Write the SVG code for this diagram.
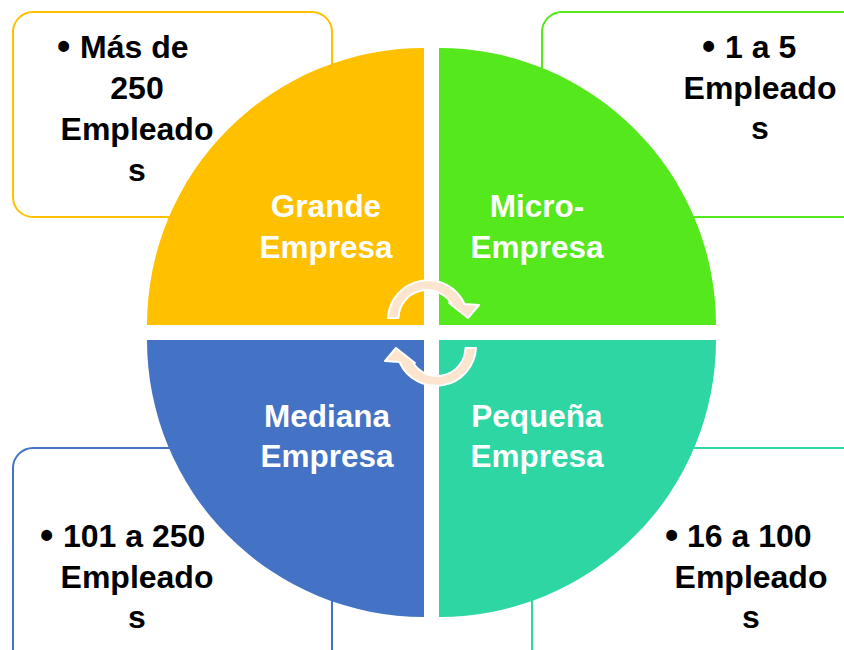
<svg xmlns="http://www.w3.org/2000/svg" width="844" height="650" viewBox="0 0 844 650">
<style>
.box{fill:#FFFFFF;stroke-width:2}
.lbl{font-family:"Liberation Sans",Arial,sans-serif;font-weight:bold;font-size:31.5px;fill:#FFFFFF;text-anchor:middle}
.txt{font-family:"Liberation Sans",Arial,sans-serif;font-weight:bold;font-size:32px;fill:#000000}
.bul{font-family:"Liberation Sans",Arial,sans-serif;font-weight:bold;font-size:38px;fill:#000000}
.mid{text-anchor:middle}
.arrow{fill:#FCE4CF;stroke:#FFFFFF;stroke-width:2;stroke-linejoin:round}
</style>
<rect width="844" height="650" fill="#FFFFFF"/>
<g id="box-grande">
<rect class="box" x="13" y="12" width="319" height="205" rx="20" stroke="#FFC000"/>
<text class="bul" x="57" y="59">•</text>
<text class="txt" x="80" y="58">Más de</text>
<text class="txt mid" x="137" y="99">250</text>
<text class="txt mid" x="137" y="140">Empleado</text>
<text class="txt mid" x="137" y="181">s</text>
</g>
<g id="box-micro">
<rect class="box" x="542" y="12" width="330" height="205" rx="20" stroke="#54E81D"/>
<text class="bul" x="702" y="59">•</text>
<text class="txt" x="725" y="58">1 a 5</text>
<text class="txt mid" x="760" y="99">Empleado</text>
<text class="txt mid" x="760" y="139">s</text>
</g>
<g id="box-mediana">
<rect class="box" x="13" y="448" width="319" height="230" rx="20" stroke="#4472C4"/>
<text class="bul" x="40" y="548">•</text>
<text class="txt" x="63" y="547">101 a 250</text>
<text class="txt mid" x="137" y="588">Empleado</text>
<text class="txt mid" x="137" y="628">s</text>
</g>
<g id="box-pequena">
<rect class="box" x="532" y="448" width="340" height="230" rx="20" stroke="#2ED6A3"/>
<text class="bul" x="665" y="548">•</text>
<text class="txt" x="687" y="547">16 a 100</text>
<text class="txt mid" x="751" y="588">Empleado</text>
<text class="txt mid" x="751" y="628">s</text>
</g>
<g id="grande">
<path d="M424 325 L147 325 A277 277 0 0 1 424 48 Z" fill="#FFC000"/>
<text class="lbl" x="326" y="217">Grande</text>
<text class="lbl" x="326" y="258">Empresa</text>
</g>
<g id="micro">
<path d="M439 325 L439 48 A277 277 0 0 1 716 325 Z" fill="#54E81D"/>
<text class="lbl" x="537" y="217">Micro-</text>
<text class="lbl" x="537" y="258">Empresa</text>
</g>
<g id="mediana">
<path d="M424 340 L424 617 A277 277 0 0 1 147 340 Z" fill="#4472C4"/>
<text class="lbl" x="327" y="427">Mediana</text>
<text class="lbl" x="327" y="467">Empresa</text>
</g>
<g id="pequena">
<path d="M439 340 L716 340 A277 277 0 0 1 439 617 Z" fill="#2ED6A3"/>
<text class="lbl" x="537" y="427">Pequeña</text>
<text class="lbl" x="537" y="467">Empresa</text>
</g>
<g id="connectors">
<path id="arrow-top" class="arrow" d="M388 318 A40 40 0 0 1 464.5 304 L479 305 L468 318 L449 303 L451.5 304 A28.5 28.5 0 0 0 398.5 318 Z"/>
<path id="arrow-bottom" class="arrow" d="M388 318 A40 40 0 0 1 464.5 304 L479 305 L468 318 L449 303 L451.5 304 A28.5 28.5 0 0 0 398.5 318 Z" transform="rotate(180 432 333)"/>
</g>
</svg>
